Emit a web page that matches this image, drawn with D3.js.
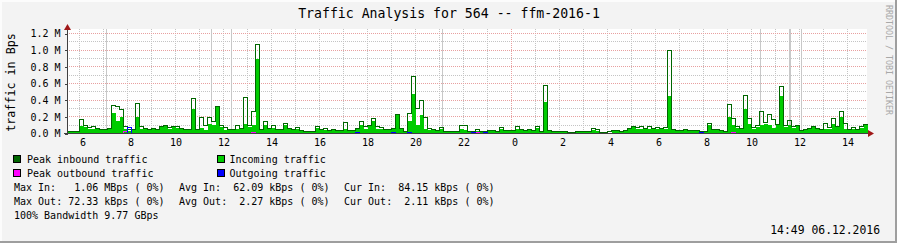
<!DOCTYPE html>
<html>
<head>
<meta charset="utf-8">
<script src="https://cdn.jsdelivr.net/npm/d3@7"></script>
<style>
  body { margin: 0; background: #f3f3f3; }
  svg text { font-family: "DejaVu Sans Mono", monospace; white-space: pre; fill: #000; }
</style>
</head>
<body>
<script>
var outerWidth = 897, outerHeight = 243;

// plot region (pixels)
var plot = { left: 67, right: 867, top: 29, bottom: 133.5 };

// time range of the graph, one value every 10 minutes
var start = new Date(2016, 11, 5, 5, 30), end = new Date(2016, 11, 6, 14, 50);
var stepMin = 10;

// values in M (Bps)
var incoming = [
  0.025,0.025,0.03,0.09,0.08,0.06,0.06,0.05,0.04,0.05, 0.05,0.25,0.15,0.2,0.05,0.03,0.04,0.2,0.06,0.05,
  0.04,0.05,0.04,0.08,0.09,0.06,0.08,0.07,0.05,0.04, 0.04,0.3,0.04,0.07,0.04,0.12,0.1,0.33,0.08,0.04,
  0.04,0.04,0.06,0.05,0.12,0.08,0.1,0.9,0.04,0.1, 0.05,0.07,0.04,0.04,0.1,0.05,0.04,0.05,0.03,0.03,
  0.03,0.03,0.07,0.04,0.04,0.03,0.04,0.03,0.04,0.05, 0.03,0.03,0.05,0.1,0.06,0.09,0.15,0.06,0.05,0.04,
  0.04,0.05,0.22,0.05,0.02,0.15,0.48,0.1,0.22,0.05, 0.04,0.04,0.03,0.05,0.02,0.02,0.02,0.02,0.06,0.04,
  0.03,0.02,0.03,0.02,0.02,0.03,0.03,0.03,0.05,0.03, 0.03,0.03,0.06,0.04,0.04,0.04,0.03,0.07,0.02,0.38,
  0.03,0.015,0.015,0.02,0.02,0.01,0.01,0.015,0.02,0.02, 0.02,0.04,0.03,0.01,0.01,0.01,0.025,0.03,0.025,0.03,
  0.05,0.08,0.06,0.05,0.05,0.06,0.05,0.06,0.05,0.05, 0.45,0.04,0.03,0.03,0.04,0.03,0.03,0.03,0.02,0.03,
  0.1,0.04,0.04,0.03,0.02,0.2,0.1,0.07,0.05,0.3, 0.12,0.06,0.08,0.1,0.12,0.1,0.07,0.1,0.45,0.08,
  0.1,0.07,0.09,0.03,0.04,0.05,0.08,0.05,0.04,0.06, 0.06,0.12,0.08,0.2,0.06,0.04,0.06,0.04,0.07,0.1
];
var peakIn = [
  0.025,0.025,0.03,0.17,0.1,0.07,0.09,0.06,0.05,0.05, 0.06,0.34,0.32,0.29,0.09,0.05,0.05,0.36,0.08,0.06,
  0.05,0.06,0.05,0.09,0.1,0.07,0.09,0.08,0.06,0.05, 0.05,0.42,0.05,0.19,0.1,0.19,0.15,0.33,0.1,0.07,
  0.05,0.05,0.1,0.06,0.43,0.1,0.26,1.07,0.05,0.14, 0.06,0.1,0.05,0.05,0.12,0.06,0.05,0.07,0.04,0.03,
  0.03,0.03,0.09,0.05,0.06,0.04,0.05,0.04,0.04,0.13, 0.04,0.04,0.06,0.14,0.08,0.1,0.18,0.08,0.07,0.05,
  0.05,0.06,0.23,0.06,0.03,0.24,0.68,0.3,0.4,0.19, 0.06,0.05,0.04,0.07,0.03,0.02,0.03,0.03,0.1,0.1,
  0.03,0.03,0.05,0.02,0.02,0.04,0.04,0.03,0.07,0.04, 0.04,0.04,0.08,0.05,0.04,0.05,0.04,0.09,0.03,0.58,
  0.04,0.02,0.02,0.02,0.03,0.015,0.015,0.02,0.03,0.025, 0.025,0.06,0.05,0.015,0.015,0.02,0.035,0.035,0.03,0.035,
  0.06,0.09,0.07,0.08,0.06,0.08,0.06,0.07,0.06,0.07, 1.0,0.05,0.04,0.04,0.05,0.04,0.04,0.04,0.03,0.03,
  0.12,0.05,0.05,0.04,0.03,0.35,0.18,0.08,0.06,0.46, 0.18,0.07,0.1,0.26,0.13,0.23,0.17,0.11,0.56,0.1,
  0.16,0.08,0.1,0.04,0.05,0.06,0.09,0.06,0.05,0.12, 0.07,0.18,0.09,0.27,0.12,0.05,0.07,0.05,0.08,0.11
];
var outgoing = [
  0.002,0.002,0.002,0.002,0.002,0.002,0.002,0.002,0.002,0.002, 0.002,0.002,0.002,0.002,0.002,0.07,0.002,0.002,0.002,0.002,
  0.002,0.002,0.002,0.002,0.002,0.002,0.002,0.002,0.002,0.002, 0.002,0.002,0.002,0.002,0.002,0.002,0.002,0.002,0.002,0.002,
  0.002,0.002,0.002,0.002,0.002,0.002,0.002,0.002,0.002,0.002, 0.002,0.002,0.002,0.002,0.002,0.002,0.002,0.002,0.002,0.002,
  0.002,0.002,0.002,0.002,0.002,0.002,0.002,0.002,0.002,0.002, 0.002,0.002,0.01,0.002,0.002,0.002,0.002,0.002,0.002,0.002,
  0.002,0.015,0.002,0.002,0.002,0.012,0.002,0.002,0.002,0.002, 0.002,0.002,0.002,0.002,0.002,0.002,0.002,0.002,0.002,0.002,
  0.002,0.01,0.002,0.002,0.012,0.002,0.002,0.002,0.002,0.002, 0.002,0.002,0.002,0.002,0.002,0.002,0.002,0.002,0.002,0.002,
  0.002,0.002,0.002,0.002,0.002,0.002,0.002,0.002,0.002,0.002, 0.002,0.002,0.002,0.002,0.002,0.002,0.002,0.002,0.002,0.002,
  0.002,0.002,0.002,0.002,0.002,0.002,0.002,0.002,0.002,0.002, 0.002,0.002,0.002,0.002,0.002,0.002,0.002,0.002,0.01,0.002,
  0.002,0.002,0.002,0.002,0.002,0.002,0.002,0.002,0.002,0.002, 0.002,0.002,0.002,0.002,0.002,0.002,0.002,0.002,0.002,0.002,
  0.002,0.002,0.002,0.002,0.002,0.002,0.002,0.002,0.002,0.002, 0.002,0.002,0.002,0.002,0.002,0.002,0.002,0.002,0.002,0.002
];
var peakOut = [
  0.003,0.003,0.003,0.003,0.003,0.003,0.003,0.003,0.003,0.003, 0.003,0.003,0.003,0.003,0.03,0.072,0.003,0.003,0.003,0.003,
  0.003,0.003,0.003,0.003,0.003,0.003,0.003,0.003,0.003,0.003, 0.003,0.003,0.003,0.003,0.003,0.003,0.003,0.003,0.003,0.003,
  0.003,0.003,0.003,0.003,0.003,0.003,0.01,0.003,0.003,0.003, 0.003,0.003,0.003,0.003,0.003,0.003,0.003,0.003,0.003,0.003,
  0.003,0.003,0.003,0.003,0.003,0.003,0.003,0.003,0.003,0.003, 0.003,0.003,0.012,0.003,0.003,0.003,0.003,0.003,0.003,0.003,
  0.003,0.003,0.003,0.003,0.003,0.003,0.003,0.003,0.003,0.003, 0.003,0.003,0.003,0.003,0.003,0.003,0.003,0.003,0.003,0.003,
  0.003,0.012,0.012,0.003,0.003,0.003,0.003,0.003,0.003,0.003, 0.003,0.003,0.003,0.003,0.003,0.003,0.003,0.003,0.003,0.003,
  0.003,0.003,0.003,0.003,0.003,0.003,0.003,0.003,0.003,0.003, 0.003,0.003,0.003,0.003,0.003,0.003,0.003,0.003,0.003,0.003,
  0.003,0.003,0.003,0.003,0.003,0.003,0.003,0.003,0.003,0.003, 0.003,0.003,0.003,0.003,0.003,0.003,0.003,0.003,0.003,0.003,
  0.003,0.003,0.003,0.003,0.003,0.003,0.012,0.003,0.003,0.003, 0.003,0.003,0.003,0.003,0.003,0.003,0.003,0.003,0.003,0.003,
  0.003,0.003,0.003,0.003,0.003,0.003,0.003,0.003,0.003,0.003, 0.003,0.003,0.003,0.003,0.003,0.003,0.003,0.003,0.003,0.003
];

// the solid grey rules across the plot
var markTimes = [
  new Date(2016, 11, 5, 7, 7), new Date(2016, 11, 5, 11, 31), new Date(2016, 11, 5, 12, 21),
  new Date(2016, 11, 5, 21, 7), new Date(2016, 11, 6, 10, 23), new Date(2016, 11, 6, 11, 37),
  new Date(2016, 11, 6, 12, 6)
];

var yTicks = [0, 0.2, 0.4, 0.6, 0.8, 1.0, 1.2];
var yMinor = [0.1, 0.3, 0.5, 0.7, 0.9, 1.1];

var title = "Traffic Analysis for 564 -- ffm-2016-1";
var yTitle = "traffic in Bps";
var sideText = "RRDTOOL / TOBI OETIKER";
var legendNames = ["Peak inbound traffic", "Incoming traffic", "Peak outbound traffic", "Outgoing traffic"];
var legendColors = ["#006600", "#00cc00", "#ff00ff", "#0000ff"];
var statsRows = [
  ["Max In:   1.06 MBps ( 0%)", "Avg In:  62.09 kBps ( 0%)", "Cur In:  84.15 kBps ( 0%)"],
  ["Max Out: 72.33 kBps ( 0%)", "Avg Out:  2.27 kBps ( 0%)", "Cur Out:  2.11 kBps ( 0%)"]
];
var bandwidth = "100% Bandwidth 9.77 GBps";
var stamp = "14:49 06.12.2016";

function timeAt(i) { return d3.timeMinute.offset(start, i * stepMin); }
function series(vals) {
  var s = vals.map(function (v, i) { return { t: timeAt(i), v: v }; });
  s.push({ t: end, v: vals[vals.length - 1] });   // close the last step
  return s;
}

var x = d3.scaleTime()
  .domain([start, end])
  .range([plot.left + 0.5, plot.right + 0.5]);

var y = d3.scaleLinear()
  .domain([0, 1.2])
  .range([plot.bottom, 33.5]);

var area = d3.area()
  .curve(d3.curveStepAfter)
  .x(function (d) { return x(d.t); })
  .y0(y(0))
  .y1(function (d) { return y(d.v); });

var line = d3.line()
  .curve(d3.curveStepAfter)
  .x(function (d) { return x(d.t); })
  .y(function (d) { return Math.round(y(d.v) - 0.5) + 0.5; });

var svg = d3.select("body").append("svg")
  .attr("width", outerWidth)
  .attr("height", outerHeight);

// background and frame
svg.append("rect").attr("width", outerWidth).attr("height", outerHeight).attr("fill", "#f3f3f3");
svg.append("rect").attr("x", 0).attr("y", 0).attr("width", outerWidth).attr("height", 2).attr("fill", "#fcfcfc");
svg.append("rect").attr("x", 0).attr("y", 0).attr("width", 2).attr("height", outerHeight).attr("fill", "#fcfcfc");
svg.append("rect").attr("x", 0).attr("y", outerHeight - 2).attr("width", outerWidth).attr("height", 2).attr("fill", "#9e9e9e");
svg.append("rect").attr("x", outerWidth - 2).attr("y", 0).attr("width", 2).attr("height", outerHeight).attr("fill", "#9e9e9e");

// white canvas
svg.append("rect")
  .attr("x", plot.left).attr("y", plot.top)
  .attr("width", plot.right - plot.left).attr("height", plot.bottom - plot.top)
  .attr("fill", "#ffffff");

var grid = svg.append("g").attr("shape-rendering", "crispEdges");

// minor grid: every 0.1 M and every hour
grid.selectAll(".hminor").data(yMinor).enter().append("line")
  .attr("x1", plot.left).attr("x2", plot.right)
  .attr("y1", function (d) { return y(d); }).attr("y2", function (d) { return y(d); })
  .attr("stroke", "#c4c4c4").attr("stroke-dasharray", "1,1");

var hours = x.ticks(d3.timeHour.every(1)).filter(function (d) { return d.getHours() !== 0; });
grid.selectAll(".vminor").data(hours).enter().append("line")
  .attr("x1", function (d) { return x(d); }).attr("x2", function (d) { return x(d); })
  .attr("y1", plot.top).attr("y2", plot.bottom)
  .attr("stroke", "#c4c4c4").attr("stroke-dasharray", "1,1");

// major grid: labelled values and midnight
grid.selectAll(".hmajor").data(yTicks.slice(1)).enter().append("line")
  .attr("x1", plot.left).attr("x2", plot.right)
  .attr("y1", function (d) { return y(d); }).attr("y2", function (d) { return y(d); })
  .attr("stroke", "#e8a0a0").attr("stroke-dasharray", "1,1");

grid.selectAll(".vmajor").data(x.ticks(d3.timeDay.every(1))).enter().append("line")
  .attr("x1", function (d) { return x(d); }).attr("x2", function (d) { return x(d); })
  .attr("y1", plot.top).attr("y2", plot.bottom)
  .attr("stroke", "#e8a0a0").attr("stroke-dasharray", "1,1");

grid.selectAll(".mark").data(markTimes).enter().append("line")
  .attr("x1", function (d) { return x(d); }).attr("x2", function (d) { return x(d); })
  .attr("y1", plot.top).attr("y2", plot.bottom)
  .attr("stroke", "#c8c8c8").attr("stroke-width", function (d, i) { return i === 5 ? 2 : 1; });

// data
var marks = svg.append("g").attr("shape-rendering", "crispEdges");

marks.append("path")
  .datum(series(incoming))
  .attr("d", area)
  .attr("fill", "#00cc00");

marks.append("path")
  .datum(series(peakIn))
  .attr("d", line)
  .attr("fill", "none").attr("stroke", "#006600");

marks.append("path")
  .datum(series(peakOut))
  .attr("d", line)
  .attr("fill", "none").attr("stroke", "#ff00ff");

marks.append("path")
  .datum(series(outgoing))
  .attr("d", line)
  .attr("fill", "none").attr("stroke", "#0000ff");

// axes
var xAxis = d3.axisBottom(x)
  .ticks(d3.timeHour.every(2))
  .tickFormat(d3.timeFormat("%_H"))
  .tickSize(0)
  .tickPadding(5);

var yAxis = d3.axisLeft(y)
  .tickValues(yTicks)
  .tickFormat(function (d) { return d.toFixed(1) + " M"; })
  .tickSizeInner(3)
  .tickSizeOuter(0)
  .tickPadding(4);

var gx = svg.append("g")
  .attr("transform", "translate(0," + plot.bottom + ")")
  .call(xAxis);
gx.select(".domain").remove();

var gy = svg.append("g")
  .attr("transform", "translate(" + (plot.left + 0.5) + ",0)")
  .call(yAxis);
gy.select(".domain").remove();
gy.selectAll("line").attr("stroke", "#404040").attr("shape-rendering", "crispEdges");

[gx, gy].forEach(function (g) {
  g.attr("font-family", null).attr("font-size", null);
  g.selectAll("text").attr("font-size", "10px").attr("fill", "#000");
});

svg.append("line")
  .attr("x1", plot.left + 0.5).attr("x2", plot.left + 0.5)
  .attr("y1", plot.bottom).attr("y2", 27)
  .attr("stroke", "#404040").attr("shape-rendering", "crispEdges");
svg.append("line")
  .attr("x1", plot.left - 3).attr("x2", 870)
  .attr("y1", plot.bottom).attr("y2", plot.bottom)
  .attr("stroke", "#404040").attr("shape-rendering", "crispEdges");

// arrows
svg.append("path")
  .attr("d", "M" + (plot.left + 0.5) + ",24 l3.5,6 l-7,0 z")
  .attr("fill", "#a01818");
svg.append("path")
  .attr("d", "M874," + plot.bottom + " l-6,-3.5 l0,7 z")
  .attr("fill", "#a01818");

// titles
svg.append("text")
  .attr("x", 449).attr("y", 18.3)
  .attr("text-anchor", "middle")
  .style("font-size", "13.2px")
  .text(title);

svg.append("text")
  .attr("transform", "translate(15,82.5) rotate(-90)")
  .attr("text-anchor", "middle")
  .style("font-size", "11.7px")
  .text(yTitle);

svg.append("text")
  .attr("transform", "translate(886,5) rotate(90)")
  .style("font-size", "8.3px")
  .style("fill", "#a8a8a8")
  .text(sideText);

// legend
var legend = svg.append("g");
legendNames.forEach(function (name, i) {
  var col = i % 2, row = Math.floor(i / 2);
  var bx = col === 0 ? 13.5 : 217.5, tx = col === 0 ? 27 : 229.5;
  var by = 155.5 + row * 14;
  legend.append("rect")
    .attr("x", bx).attr("y", by).attr("width", 7).attr("height", 7)
    .attr("fill", legendColors[i]).attr("stroke", "#000");
  legend.append("text")
    .attr("x", tx).attr("y", 163 + row * 14)
    .style("font-size", "10px")
    .text(name);
});

var statX = [14, 179, 344];
statsRows.forEach(function (row, r) {
  row.forEach(function (s, c) {
    legend.append("text")
      .attr("x", statX[c]).attr("y", 191 + r * 14)
      .style("font-size", "10px")
      .text(s);
  });
});

legend.append("text")
  .attr("x", 14).attr("y", 219)
  .style("font-size", "10px")
  .text(bandwidth);

svg.append("text")
  .attr("x", 880).attr("y", 234)
  .attr("text-anchor", "end")
  .style("font-size", "11.4px")
  .text(stamp);
</script>
</body>
</html>
